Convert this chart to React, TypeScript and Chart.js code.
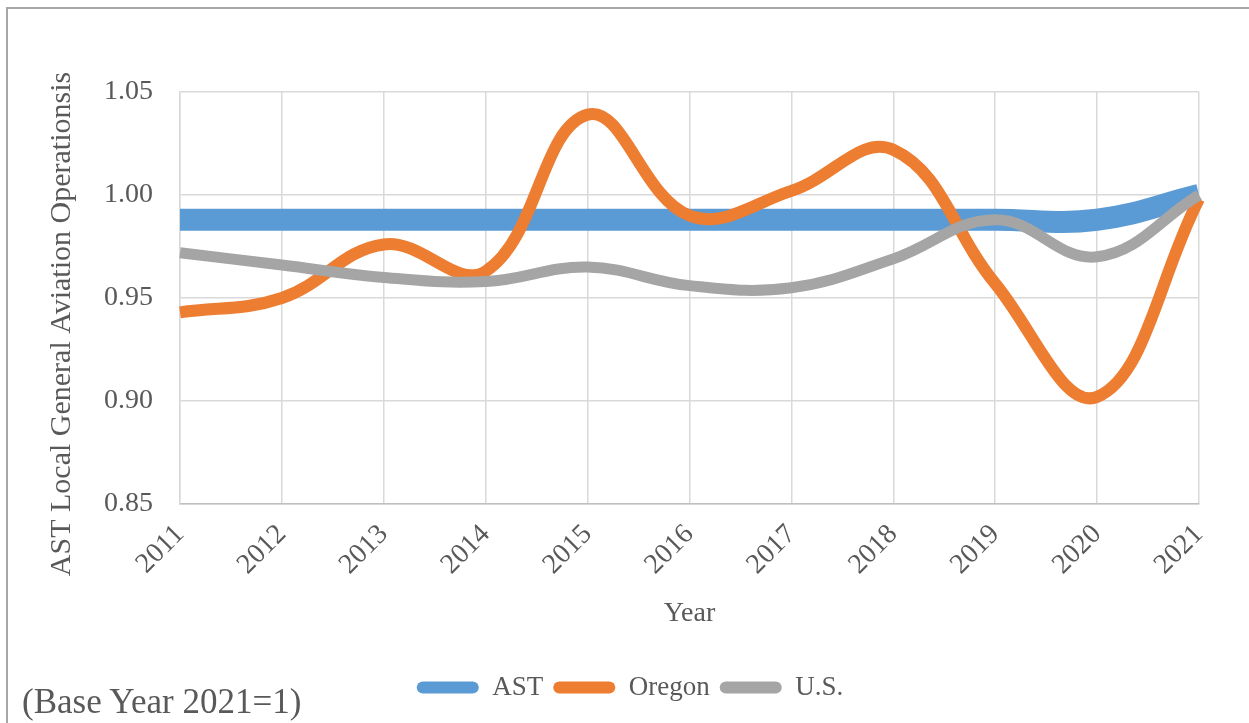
import React, { useEffect, useRef } from "react";
import { Chart, registerables } from "chart.js";

Chart.register(...registerables);

// ---- Data ----
const years = ["2011", "2012", "2013", "2014", "2015", "2016", "2017", "2018", "2019", "2020", "2021"];
const astValues = [0.988, 0.988, 0.988, 0.988, 0.988, 0.988, 0.988, 0.988, 0.988, 0.988, 1.0];
const oregonValues = [0.943, 0.95, 0.976, 0.963, 1.039, 0.99, 1.002, 1.022, 0.957, 0.902, 0.998];
const usValues = [0.972, 0.966, 0.96, 0.958, 0.965, 0.956, 0.955, 0.969, 0.988, 0.97, 1.0];
const seriesNames = ["AST", "Oregon", "U.S."];
const yMin = 0.85;
const yMax = 1.05;
const yStep = 0.05;
const yAxisTitle = "AST Local General Aviation Operationsis";
const xAxisTitle = "Year";
const baseNote = "(Base Year 2021=1)";

const FONT = '"Liberation Serif", "Times New Roman", serif';
const TEXT = "#595959";
const GRID = "#d9d9d9";

const decorPlugin = {
  id: "decor",
  beforeDraw(chart: any) {
    const { ctx, width, height } = chart;
    ctx.save();
    ctx.fillStyle = "#ffffff";
    ctx.fillRect(0, 0, width, height);
    ctx.strokeStyle = "#a6a6a6";
    ctx.lineWidth = 2;
    ctx.beginPath();
    ctx.moveTo(7, height);
    ctx.lineTo(7, 8);
    ctx.lineTo(width, 8);
    ctx.stroke();
    ctx.restore();
  },
  afterDraw(chart: any) {
    const { ctx } = chart;
    ctx.save();
    ctx.translate(62, 324);
    ctx.rotate(-Math.PI / 2);
    ctx.font = `30px ${FONT}`;
    ctx.fillStyle = TEXT;
    ctx.textAlign = "center";
    ctx.textBaseline = "middle";
    ctx.fillText(yAxisTitle, 0, 0);
    ctx.restore();
  },
};

export default function App() {
  const canvasRef = useRef<HTMLCanvasElement | null>(null);

  useEffect(() => {
    document.body.style.margin = "0";
    document.body.style.overflow = "hidden";
    const canvas = canvasRef.current;
    if (!canvas) return;
    const chart = new Chart(canvas, {
      type: "line",
      data: {
        labels: years,
        datasets: [
          {
            label: seriesNames[0],
            data: astValues,
            borderColor: "#5B9BD5",
            backgroundColor: "#5B9BD5",
            borderWidth: 22,
            order: 3,
          },
          {
            label: seriesNames[1],
            data: oregonValues,
            borderColor: "#ED7D31",
            backgroundColor: "#ED7D31",
            borderWidth: 12,
            order: 2,
          },
          {
            label: seriesNames[2],
            data: usValues,
            borderColor: "#A5A5A5",
            backgroundColor: "#A5A5A5",
            borderWidth: 11,
            order: 1,
          },
        ].map((d) => ({
          ...d,
          fill: false,
          tension: 0.4,
          pointRadius: 0,
          pointHoverRadius: 0,
          borderCapStyle: "butt" as const,
          borderJoinStyle: "round" as const,
        })),
      },
      options: {
        animation: false,
        responsive: false,
        maintainAspectRatio: false,
        devicePixelRatio: 1,
        events: [],
        layout: { padding: { top: 92, left: 61, right: 50, bottom: 12 } },
        plugins: {
          tooltip: { enabled: false },
          title: { display: false },
          legend: {
            display: true,
            position: "bottom",
            align: "center",
            labels: {
              boxWidth: 62,
              boxHeight: 12,
              padding: 10,
              useBorderRadius: true,
              borderRadius: 6,
              color: TEXT,
              font: { family: FONT, size: 27 },
              sort: (a: any, b: any) => a.datasetIndex - b.datasetIndex,
              generateLabels: (chart: any) => {
                const items = Chart.defaults.plugins.legend.labels.generateLabels(chart);
                return items.map((it: any) => ({
                  ...it,
                  fillStyle: it.strokeStyle,
                  lineWidth: 0,
                  borderRadius: 6,
                }));
              },
            },
          },
        },
        scales: {
          x: {
            type: "category",
            offset: false,
            grid: { color: GRID, lineWidth: 1.5, drawTicks: false },
            border: { display: true, color: "#bfbfbf", width: 1.5 },
            ticks: {
              color: TEXT,
              font: { family: FONT, size: 28 },
              maxRotation: 45,
              minRotation: 45,
              padding: 14,
              autoSkip: false,
            },
            title: {
              display: true,
              text: xAxisTitle,
              color: TEXT,
              font: { family: FONT, size: 28, lineHeight: 1.2 },
              padding: { top: 0, bottom: 34 },
            },
            afterFit: (scale: any) => {
              scale.height = 160;
            },
          },
          y: {
            min: yMin,
            max: yMax,
            grid: { color: GRID, lineWidth: 1.5, drawTicks: false },
            border: { display: true, color: GRID, width: 1.5 },
            ticks: {
              stepSize: yStep,
              color: TEXT,
              font: { family: FONT, size: 28 },
              padding: 27,
              callback: (v: any) => Number(v).toFixed(2),
            },
            afterFit: (scale: any) => {
              scale.width = 119;
            },
          },
        },
      },
      plugins: [decorPlugin],
    });
    return () => chart.destroy();
  }, []);

  return (
    <div style={{ position: "relative", width: 1249, height: 723 }}>
      <canvas ref={canvasRef} width={1249} height={723} style={{ display: "block" }} />
      <div
        style={{
          position: "absolute",
          left: 22,
          top: 684,
          fontFamily: FONT,
          fontSize: 35,
          lineHeight: 1,
          color: TEXT,
          whiteSpace: "nowrap",
        }}
      >
        {baseNote}
      </div>
    </div>
  );
}
